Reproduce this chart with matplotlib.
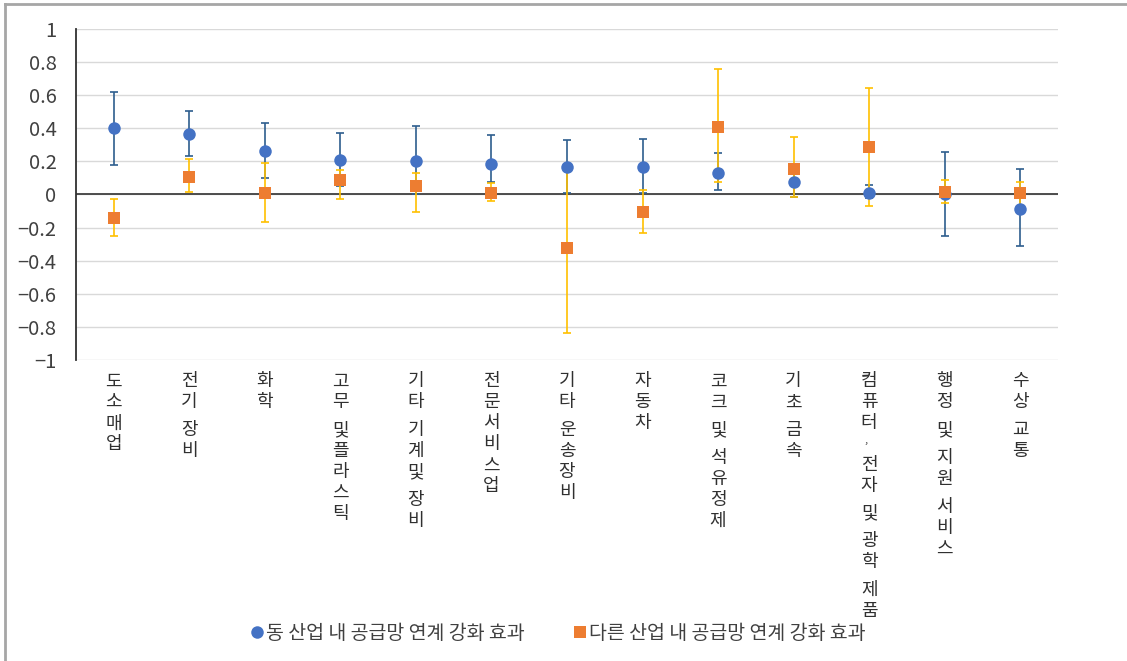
"""
Supply-chain linkage effect by industry (point estimates with CI).
"""
import numpy as np
import matplotlib
matplotlib.use('Agg')
import matplotlib.pyplot as plt
from matplotlib.lines import Line2D
from matplotlib.transforms import blended_transform_factory

# data
industries = ['도소매업', '전기 장비', '화학', '고무 및플라스틱', '기타 기계및 장비', '전문서비스업',
              '기타 운송장비', '자동차', '코크 및 석유정제', '기초 금속', '컴퓨터, 전자 및 광학 제품',
              '행정 및 지원 서비스', '수상 교통']

same_est = [0.40, 0.365, 0.265, 0.21, 0.205, 0.185, 0.165, 0.165, 0.13, 0.077, 0.01, 0.0, -0.085]
same_lo = [0.18, 0.232, 0.097, 0.05, 0.0, 0.077, 0.01, 0.006, 0.024, -0.014, -0.02, -0.25, -0.31]
same_hi = [0.62, 0.506, 0.431, 0.373, 0.411, 0.359, 0.327, 0.333, 0.252, 0.15, 0.06, 0.258, 0.151]

other_est = [-0.143, 0.103, 0.01, 0.085, 0.05, 0.01, -0.323, -0.103, 0.405, 0.153, 0.286, 0.012, 0.006]
other_lo = [-0.248, 0.012, -0.167, -0.028, -0.107, -0.04, -0.835, -0.23, 0.077, -0.014, -0.067, -0.054, -0.075]
other_hi = [-0.028, 0.212, 0.19, 0.15, 0.13, 0.07, 0.15, 0.026, 0.76, 0.347, 0.645, 0.085, 0.077]

yticks = [1, 0.8, 0.6, 0.4, 0.2, 0, -0.2, -0.4, -0.6, -0.8, -1]
legend_labels = ['동 산업 내 공급망 연계 강화 효과', '다른 산업 내 공급망 연계 강화 효과']

BLUE = '#4472C4'
BLUE_ERR = '#2E5E8E'
ORANGE = '#ED7D31'
YELLOW = '#FFC000'
TEXT = '#404040'

plt.rcParams['font.family'] = ['Noto Sans CJK KR', 'DejaVu Sans']
plt.rcParams['axes.unicode_minus'] = True

fig = plt.figure(figsize=(11.27, 6.61), dpi=100)
ax = fig.add_axes([0.0674, 0.4554, 0.8714, 0.5008])

x = np.arange(len(industries))

# error bars
s_est = np.array(same_est)
o_est = np.array(other_est)
s_err = [s_est - np.array(same_lo), np.array(same_hi) - s_est]
o_err = [o_est - np.array(other_lo), np.array(other_hi) - o_est]

ax.errorbar(x, s_est, yerr=s_err, fmt='none', ecolor=BLUE_ERR, elinewidth=1.2,
            capsize=3, capthick=1.2, zorder=3)
ax.errorbar(x, o_est, yerr=o_err, fmt='none', ecolor=YELLOW, elinewidth=1.2,
            capsize=3, capthick=1.2, zorder=3)
ax.plot(x, s_est, 'o', color=BLUE, markersize=9, markeredgewidth=0, zorder=4)
ax.plot(x, o_est, 's', color=ORANGE, markersize=8.5, markeredgewidth=0, zorder=5)

ax.set_xlim(-0.5, len(industries) - 0.5)
ax.set_ylim(-1, 1)
ax.set_yticks(yticks)
ax.set_yticklabels(['{:g}'.format(v).replace('-', '\u2212') for v in yticks])
ax.tick_params(axis='y', length=0, pad=14, labelsize=14.5, labelcolor=TEXT)
ax.set_xticks([])

ax.grid(axis='y', color='#D9D9D9', linewidth=1)
ax.set_axisbelow(True)
ax.axhline(0, color='#404040', linewidth=1.3, zorder=2)
for side in ['top', 'right', 'bottom']:
    ax.spines[side].set_visible(False)
ax.spines['left'].set_color('#303030')
ax.spines['left'].set_linewidth(1.3)

# vertical stacked category labels
trans = blended_transform_factory(ax.transData, ax.transAxes)
for i, name in enumerate(industries):
    off = -9.0
    for ch in name:
        if ch == ' ':
            off -= 5.0
            continue
        if ch == ',':
            ax.annotate(ch, xy=(i, 0), xycoords=trans, xytext=(-2, off), textcoords='offset points',
                        ha='center', va='top', fontsize=8, color='#303030', annotation_clip=False)
            off -= 9.5
            continue
        ax.annotate(ch, xy=(i, 0), xycoords=trans, xytext=(0, off), textcoords='offset points',
                    ha='center', va='top', fontsize=13, color='#303030', annotation_clip=False)
        off -= 15.1

# legend
handles = [Line2D([], [], marker='o', linestyle='none', color=BLUE, markersize=9, markeredgewidth=0),
           Line2D([], [], marker='s', linestyle='none', color=ORANGE, markersize=8.5, markeredgewidth=0)]
fig.legend(handles, legend_labels, loc='center', bbox_to_anchor=(0.494, 0.042), ncol=2,
           frameon=False, fontsize=14, handletextpad=0.0, columnspacing=2.4,
           handlelength=0.9, labelcolor=TEXT)

# outer frame (left and top only)
fig.add_artist(Line2D([0.0045, 0.0045], [0, 0.994], transform=fig.transFigure, color='#A6A6A6', linewidth=2))
fig.add_artist(Line2D([0.0045, 1.0], [0.994, 0.994], transform=fig.transFigure, color='#A6A6A6', linewidth=2))

plt.savefig('out.png', dpi=100)
